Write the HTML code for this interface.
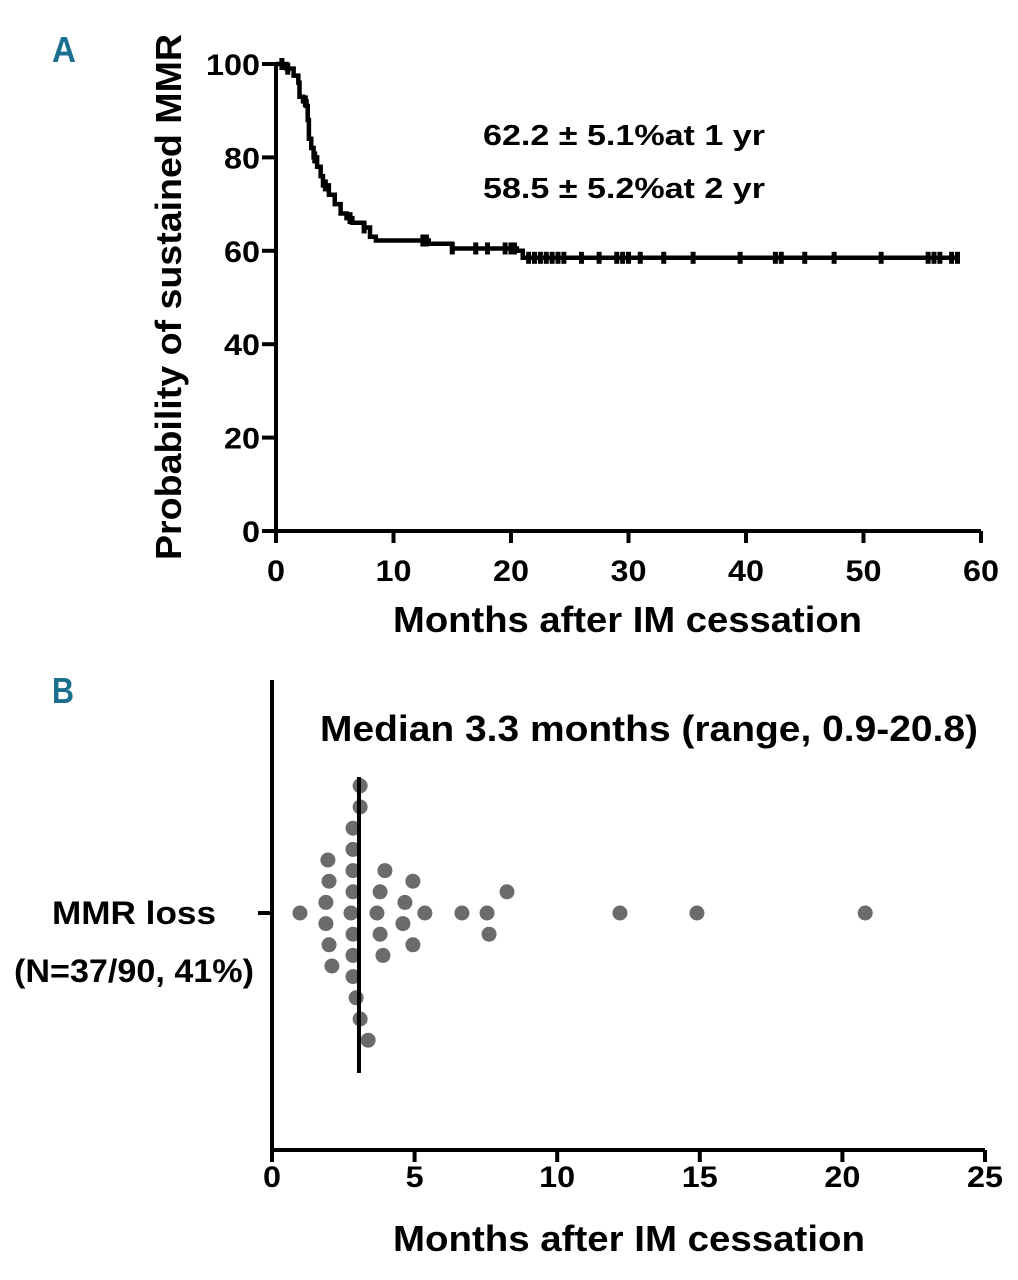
<!DOCTYPE html>
<html><head><meta charset="utf-8"><style>
html,body{margin:0;padding:0;background:#fff}
svg{display:block;font-family:"Liberation Sans",Arial,sans-serif;font-weight:bold}
</style></head><body>
<svg id="c" width="1018" height="1280" viewBox="0 0 1018 1280">
<g id="A"></g>
<g id="B"></g>
</svg>
<script>
// Panel A data
const kmMonths = [0,0.9,1.5,1.9,2.0,2.3,2.6,2.7,2.8,3.0,3.2,3.5,3.8,4.0,4.5,5.0,5.5,6.0,6.5,7.5,8.0,8.5,13,15,20.5,21,58.2];
const kmSurvival = [100,99,97.5,96,93,92,91,88,84,82,80,78,76,74,72,70,68,67,66,65,63,62.2,61.5,60.5,60,58.5,58.5];
const censorMonths = [0.5,1,2.5,3.3,4.2,6.3,7.5,12.5,12.8,15,17,18,19.5,20,20.3,21.5,22,22.5,23,23.5,24,24.5,26,27.5,29,29.5,30,31,33,35.5,39.5,42.5,43,45,47.5,51.5,55.5,56,56.5,57.5,58];
const aXTicks = [0,10,20,30,40,50,60];
const aYTicks = [0,20,40,60,80,100];
// Panel B data
const lossMonths = [3.09,3.09,2.84,2.84,2.84,2.84,2.77,2.84,2.84,2.84,2.95,3.09,3.37,
  1.96,2.0,1.89,0.98,1.89,2.0,2.1,
  3.96,3.79,3.68,3.79,3.89,
  4.94,4.66,5.36,4.59,4.94,
  6.66,7.54,7.61,8.24,12.2,14.9,20.8];
const lossRows = [-12,-10,-8,-6,-4,-2,0,2,4,6,8,10,12,
  -5,-3,-1,0,1,3,5,
  -4,-2,0,2,4,
  -3,-1,0,1,3,
  0,0,2,-2,0,0,0];
const medianMonths = 3.05;
const bXTicks = [0,5,10,15,20,25];

const NS='http://www.w3.org/2000/svg';
function mk(parent,tag,attrs,text){const e=document.createElementNS(NS,tag);for(const k in attrs)e.setAttribute(k,attrs[k]);if(text!==undefined)e.textContent=text;parent.appendChild(e);return e;}
function tw(s,per){return s.length*per;}

// ---- Panel A ----
const A=document.getElementById('A');
const ax=m=>276+m*(981-276)/60, ay=v=>531-v*(531-64)/100;
let el;
el=mk(A,'text',{x:52,y:62,fill:'#1a6e8e','font-size':36,textLength:24,lengthAdjust:'spacingAndGlyphs'},'A');

el=mk(A,'path',{d:`M${ax(0)},${ay(100)}V${ay(0)}H${ax(60)}`,stroke:'#000','stroke-width':4,fill:'none'});

aYTicks.forEach(v=>{
  el=mk(A,'line',{x1:262,x2:276,y1:ay(v),y2:ay(v),stroke:'#000','stroke-width':4});
  
  const s=String(v);
  el=mk(A,'text',{x:260,y:ay(v)+11,'text-anchor':'end','font-size':30,textLength:tw(s,18),lengthAdjust:'spacingAndGlyphs'},s);
  
});
aXTicks.forEach(v=>{
  el=mk(A,'line',{x1:ax(v),x2:ax(v),y1:531,y2:543,stroke:'#000','stroke-width':4});
  
  const s=String(v);
  el=mk(A,'text',{x:ax(v),y:581,'text-anchor':'middle','font-size':30,textLength:tw(s,18),lengthAdjust:'spacingAndGlyphs'},s);
  
});
el=mk(A,'text',{x:393,y:632,'font-size':36,textLength:469,lengthAdjust:'spacingAndGlyphs'},'Months after IM cessation');

el=mk(A,'text',{x:0,y:0,'font-size':36,textLength:526,lengthAdjust:'spacingAndGlyphs',transform:'translate(181,560) rotate(-90)'},'Probability of sustained MMR');

let d=`M${ax(kmMonths[0])},${ay(kmSurvival[0])}`;
for(let i=1;i<kmMonths.length;i++){d+=`H${ax(kmMonths[i])}V${ay(kmSurvival[i])}`;}
el=mk(A,'path',{d:d,stroke:'#000','stroke-width':4.5,fill:'none'});

function survAt(m){let s=kmSurvival[0];for(let i=0;i<kmMonths.length;i++){if(kmMonths[i]<=m)s=kmSurvival[i];}return s;}
censorMonths.forEach(m=>{
  const y=ay(survAt(m));
  el=mk(A,'rect',{x:ax(m)-2.5,y:y-6,width:5,height:12,fill:'#000'});
  
});
el=mk(A,'text',{x:483,y:145,'font-size':29,textLength:282,lengthAdjust:'spacingAndGlyphs'},'62.2 ± 5.1%at 1 yr');

el=mk(A,'text',{x:483,y:198,'font-size':29,textLength:282,lengthAdjust:'spacingAndGlyphs'},'58.5 ± 5.2%at 2 yr');


// ---- Panel B ----
const B=document.getElementById('B');
const bx=m=>272+m*(985-272)/25, by=r=>913+r*10.6;
el=mk(B,'text',{x:52,y:703,fill:'#1a6e8e','font-size':36,textLength:22,lengthAdjust:'spacingAndGlyphs'},'B');

el=mk(B,'path',{d:`M272,680V1150H985`,stroke:'#000','stroke-width':4,fill:'none'});

el=mk(B,'line',{x1:258,x2:272,y1:913,y2:913,stroke:'#000','stroke-width':4});

bXTicks.forEach(v=>{
  el=mk(B,'line',{x1:bx(v),x2:bx(v),y1:1150,y2:1162,stroke:'#000','stroke-width':4});
  
  const s=String(v);
  el=mk(B,'text',{x:bx(v),y:1187,'text-anchor':'middle','font-size':30,textLength:tw(s,18),lengthAdjust:'spacingAndGlyphs'},s);
  
});
el=mk(B,'text',{x:393,y:1251,'font-size':36,textLength:472,lengthAdjust:'spacingAndGlyphs'},'Months after IM cessation');

el=mk(B,'text',{x:52,y:924,'font-size':32,textLength:164,lengthAdjust:'spacingAndGlyphs'},'MMR loss');

el=mk(B,'text',{x:14,y:982,'font-size':32,textLength:240,lengthAdjust:'spacingAndGlyphs'},'(N=37/90, 41%)');

el=mk(B,'text',{x:320,y:741,'font-size':36,textLength:658,lengthAdjust:'spacingAndGlyphs'},'Median 3.3 months (range, 0.9-20.8)');

lossMonths.forEach((m,i)=>{
  el=mk(B,'circle',{cx:bx(m),cy:by(lossRows[i]),r:7.5,fill:'#6b6b6b'});
  
});
el=mk(B,'line',{x1:bx(medianMonths),x2:bx(medianMonths),y1:777,y2:1073,stroke:'#000','stroke-width':4});

</script>
</body></html>
